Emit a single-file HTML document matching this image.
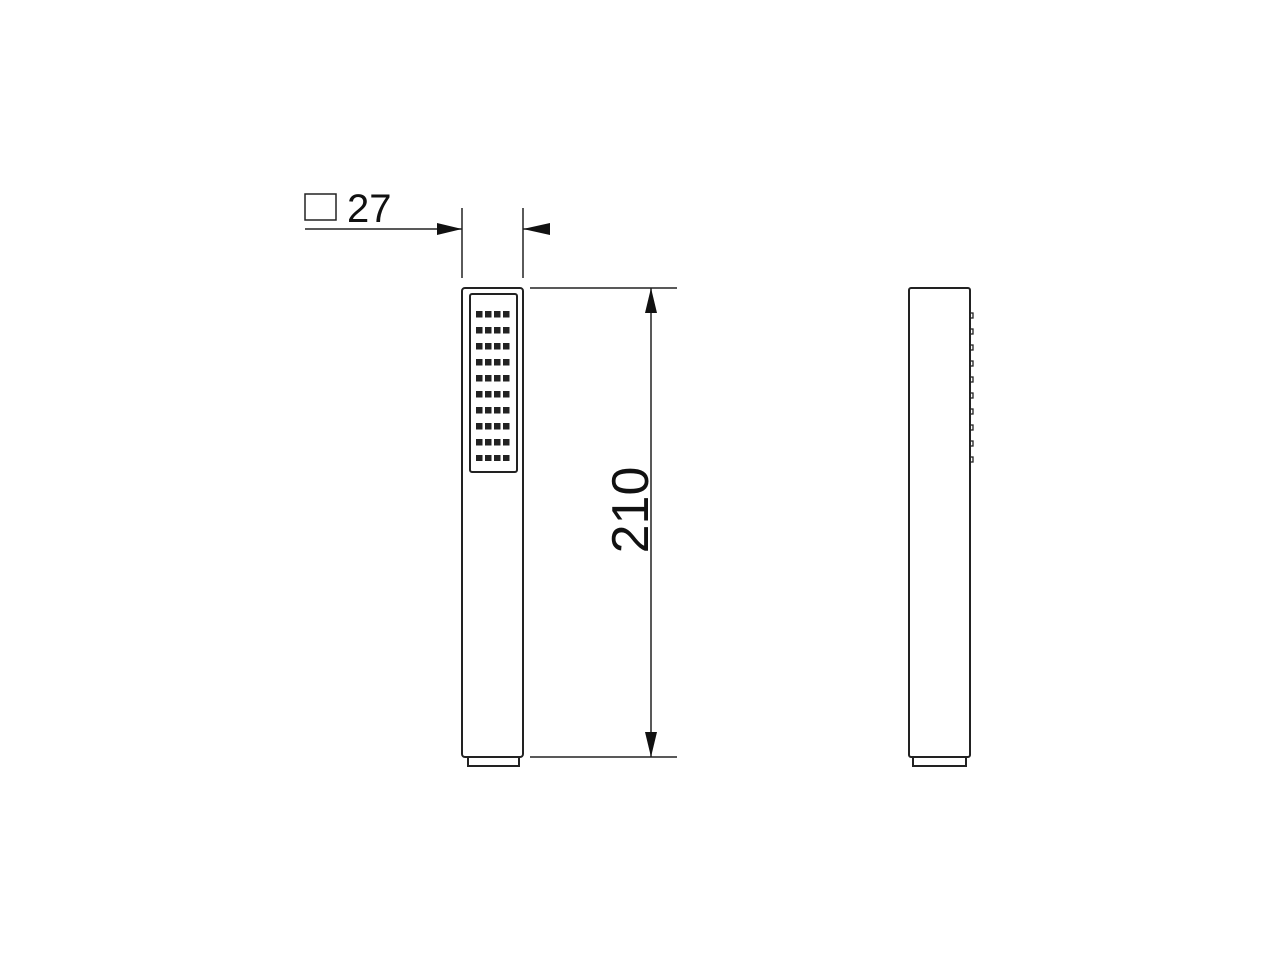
<!DOCTYPE html>
<html><head><style>body{margin:0;background:#fff}svg{display:block}</style></head>
<body>
<svg width="1280" height="960" viewBox="0 0 1280 960" xmlns="http://www.w3.org/2000/svg">
<defs>
<pattern id="hp" patternUnits="userSpaceOnUse" x="476" y="311" width="9" height="16">
<rect x="0" y="0" width="6.5" height="6.5" fill="#222"/>
</pattern>
</defs>
<g stroke="#222" fill="none" stroke-width="2">
<rect x="305" y="194" width="31" height="26" stroke-width="1.5"/>
<line x1="305" y1="229" x2="462" y2="229" stroke-width="1.5"/>
<line x1="523" y1="229" x2="550" y2="229" stroke-width="1.5"/>
<line x1="462" y1="208" x2="462" y2="278" stroke-width="1.5"/>
<line x1="523" y1="208" x2="523" y2="278" stroke-width="1.5"/>
<rect x="462" y="288" width="61" height="469" rx="3"/>
<rect x="470" y="294" width="47" height="178" rx="2"/>
<path d="M468 757 V766 H519 V757"/>
<line x1="530" y1="288" x2="677" y2="288" stroke-width="1.5"/>
<line x1="530" y1="757" x2="677" y2="757" stroke-width="1.5"/>
<line x1="651" y1="288" x2="651" y2="757" stroke-width="1.5"/>
<rect x="909" y="288" width="61" height="469" rx="2"/>
<path d="M913 757 V766 H966 V757"/>
</g>
<rect x="476" y="311" width="36" height="150" fill="url(#hp)"/>
<g fill="#111">
<polygon points="437,223 462,229 437,235"/>
<polygon points="550,223 523,229 550,235"/>
<polygon points="645,313 651,288 657,313"/>
<polygon points="645,732 651,757 657,732"/>
</g>
<g fill="none" stroke="#222" stroke-width="1.3">
<rect x="970" y="313" width="3" height="5"/>
<rect x="970" y="329" width="3" height="5"/>
<rect x="970" y="345" width="3" height="5"/>
<rect x="970" y="361" width="3" height="5"/>
<rect x="970" y="377" width="3" height="5"/>
<rect x="970" y="393" width="3" height="5"/>
<rect x="970" y="409" width="3" height="5"/>
<rect x="970" y="425" width="3" height="5"/>
<rect x="970" y="441" width="3" height="5"/>
<rect x="970" y="457" width="3" height="5"/>
</g>
<text x="347" y="222" font-family="Liberation Sans, sans-serif" font-size="40" fill="#111">27</text>
<text transform="translate(648,510) rotate(-90)" text-anchor="middle" font-family="Liberation Sans, sans-serif" font-size="52" fill="#111">210</text>
</svg>
</body></html>
